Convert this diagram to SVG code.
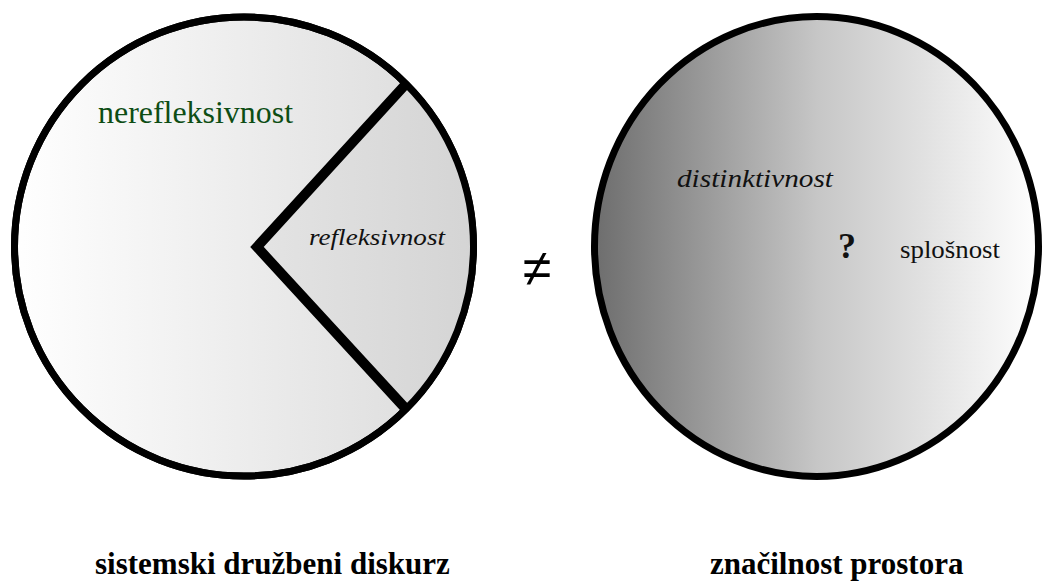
<svg xmlns="http://www.w3.org/2000/svg" width="1043" height="581" viewBox="0 0 1043 581">
  <defs>
    <linearGradient id="gLeft" gradientUnits="userSpaceOnUse" x1="11" y1="0" x2="477" y2="0">
      <stop offset="0" stop-color="#ffffff"/>
      <stop offset="1" stop-color="#dadada"/>
    </linearGradient>
    <linearGradient id="gWedge" gradientUnits="userSpaceOnUse" x1="255" y1="0" x2="477" y2="0">
      <stop offset="0" stop-color="#e4e4e4"/>
      <stop offset="1" stop-color="#d4d4d4"/>
    </linearGradient>
    <linearGradient id="gRight" gradientUnits="userSpaceOnUse" x1="591" y1="0" x2="1042" y2="0">
      <stop offset="0" stop-color="#6c6c6c"/>
      <stop offset="0.5" stop-color="#c6c6c6"/>
      <stop offset="1" stop-color="#ffffff"/>
    </linearGradient>
  </defs>
  <style>
    .ring { stroke: #000; stroke-width: 7; }
    .serif { font-family: "Liberation Serif", "Times New Roman", serif; }
    .it { font-style: italic; }
    .bold { font-weight: bold; }
    .label { font-family: "Liberation Serif", "Times New Roman", serif; font-weight: bold; font-size: 31px; fill: #000; }
  </style>

  <g id="left-circle">
    <circle cx="244" cy="246.5" r="229.5" fill="url(#gLeft)" class="ring"/>
    <path d="M257,247 L405,85 A229.5,229.5 0 0 1 405,408 Z" fill="url(#gWedge)"/>
    <circle cx="244" cy="246.5" r="229.5" fill="none" class="ring"/>
    <text class="serif" x="98" y="123" font-size="31" fill="#0d4d14" textLength="195" lengthAdjust="spacingAndGlyphs">nerefleksivnost</text>
    <text class="serif it" x="309" y="245" font-size="24" fill="#111" textLength="136" lengthAdjust="spacingAndGlyphs">refleksivnost</text>
  </g>

  <g id="connectors">
    <polyline points="405,85 257,247 405,408" fill="none" stroke="#000" stroke-width="10" stroke-linejoin="miter"/>
  </g>

  <g id="not-equal">
    <text x="537" y="286" font-family="Liberation Sans, Arial, sans-serif" font-size="52" text-anchor="middle" fill="#000">≠</text>
  </g>

  <g id="right-circle">
    <ellipse cx="816.5" cy="246.5" rx="222" ry="230" fill="url(#gRight)" class="ring"/>
    <text class="serif it" x="677" y="187" font-size="26" fill="#111" textLength="156" lengthAdjust="spacingAndGlyphs">distinktivnost</text>
    <text class="serif bold" x="838" y="258" font-size="36" fill="#111">?</text>
    <text class="serif" x="900" y="258" font-size="25" fill="#111" textLength="100" lengthAdjust="spacingAndGlyphs">splošnost</text>
  </g>

  <g id="label-left">
    <text class="label" x="95" y="574">sistemski družbeni diskurz</text>
  </g>
  <g id="label-right">
    <text class="label" x="710" y="574">značilnost prostora</text>
  </g>
</svg>
